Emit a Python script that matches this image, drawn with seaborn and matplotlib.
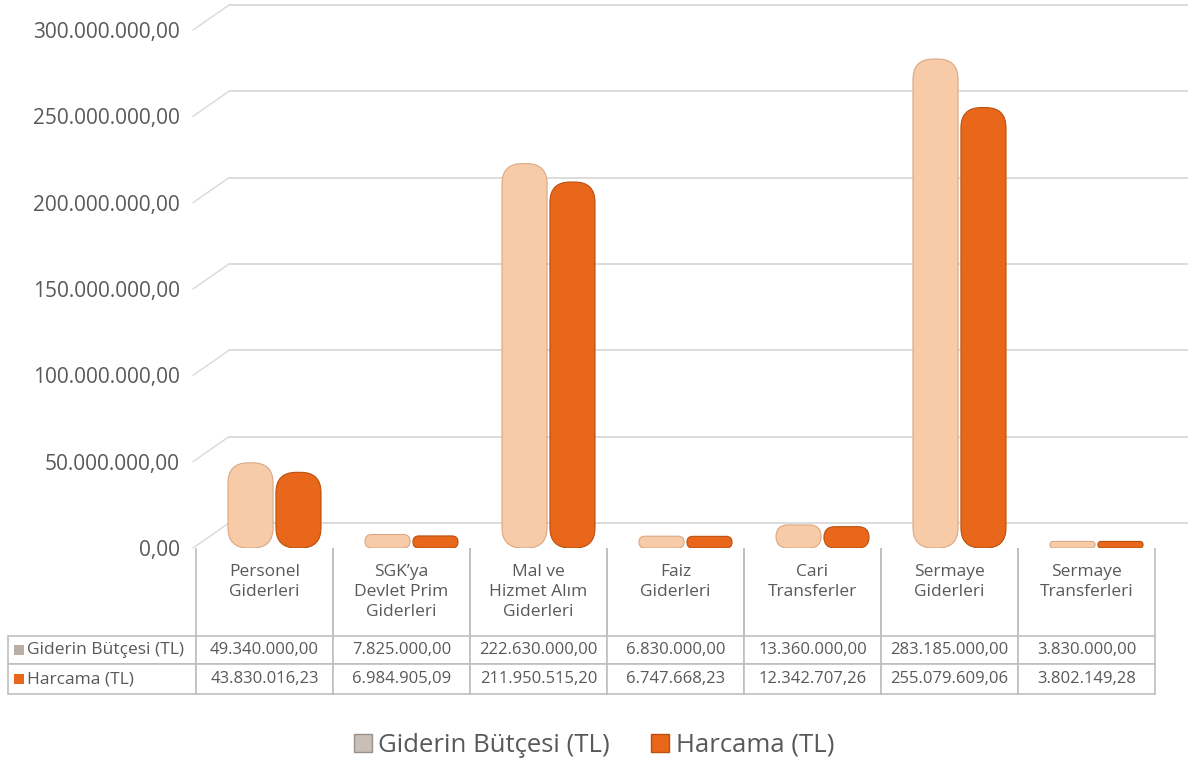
import matplotlib
matplotlib.use("Agg")
import matplotlib.pyplot as plt
from matplotlib.patches import FancyBboxPatch, Patch, Rectangle
import pandas as pd
import seaborn as sns

categories = ["Personel\nGiderleri", "SGK’ya\nDevlet Prim\nGiderleri", "Mal ve\nHizmet Alım\nGiderleri",
              "Faiz\nGiderleri", "Cari\nTransferler", "Sermaye\nGiderleri", "Sermaye\nTransferleri"]
series = ["Giderin Bütçesi (TL)", "Harcama (TL)"]
butce = [49340000.00, 7825000.00, 222630000.00, 6830000.00, 13360000.00, 283185000.00, 3830000.00]
harcama = [43830016.23, 6984905.09, 211950515.20, 6747668.23, 12342707.26, 255079609.06, 3802149.28]
yticks = [0, 50e6, 100e6, 150e6, 200e6, 250e6, 300e6]

colors = ["#F8CBA8", "#E8671A"]
edges = ["#D9A886", "#B9500F"]
grey = "#595959"
gridc = "#D9D9D9"


def tr_fmt(v):
    s = f"{v:,.2f}"
    return s.replace(",", "X").replace(".", ",").replace("X", ".")


df = pd.DataFrame({
    "cat": list(range(len(categories))) * 2,
    "seri": [series[0]] * len(butce) + [series[1]] * len(harcama),
    "deger": butce + harcama,
})

sns.set_theme(style="white")
plt.rcParams["font.family"] = ["Open Sans", "DejaVu Sans"]

W, H = 1188, 767
fig = plt.figure(figsize=(W / 100, H / 100), dpi=100)

# main bar axes (pixel layout converted to figure fractions)
ax = fig.add_axes([206 / W, (H - 548) / H, 982 / W, 518 / H])
sns.barplot(data=df, x="cat", y="deger", hue="seri", palette=colors, order=list(range(7)),
            width=0.7, gap=0.06, saturation=1, ax=ax, legend=False, native_scale=True)
ax.set_xlim(-0.5, -0.5 + 982 / 137)
ax.set_ylim(0, 300e6)

# turn the flat bars into rounded "cylinders"
ypp = 300e6 / 518   # data units per pixel in y
xpp = 1 / 137       # data units per pixel in x
aspect = ypp / xpp
bars = list(ax.patches)
for b in bars:
    x0, y0 = b.get_x(), b.get_y()
    w, h = b.get_width(), b.get_height()
    if h <= 0:
        continue
    light = b.get_facecolor()[1] > 0.6
    rs = min(w * 0.45, (h / aspect) / 2)
    rb = FancyBboxPatch((x0, y0), w, h, boxstyle=f"round,pad=0,rounding_size={rs}",
                        mutation_aspect=aspect, facecolor=b.get_facecolor(),
                        edgecolor=edges[0] if light else edges[1], linewidth=0.8, zorder=3)
    b.remove()
    ax.add_patch(rb)

# 3D-ish gridlines: back wall line plus a short diagonal to the front
trans = ax.get_yaxis_transform()
back = 25 * ypp
a0 = 23 / 982
for v in yticks:
    ax.plot([-13 / 982, a0], [v, v + back], color=gridc, lw=1, transform=trans, clip_on=False, zorder=1)
    ax.plot([a0, 1], [v + back, v + back], color=gridc, lw=1.3, transform=trans, clip_on=False, zorder=1)

ax.set_yticks(yticks)
ax.set_yticklabels([tr_fmt(v) for v in yticks], color=grey, fontsize=15)
ax.tick_params(axis="y", length=0, pad=19)
ax.set_xticks([])
ax.set_xlabel("")
ax.set_ylabel("")
for s in ax.spines.values():
    s.set_visible(False)
ax.patch.set_alpha(0)

# data table under the chart
tax = fig.add_axes([8 / W, (H - 694) / H, 1147 / W, 146 / H])
tax.axis("off")
header = [""] + [c if c.count("\n") == 2 else c + "\n" for c in categories]
row1 = [series[0]] + [tr_fmt(v) for v in butce]
row2 = [series[1]] + [tr_fmt(v) for v in harcama]
widths = [188] + [137] * 7
tbl = tax.table(cellText=[header, row1, row2], cellLoc="center",
                colWidths=[w / sum(widths) for w in widths], bbox=[0, 0, 1, 1])
tbl.auto_set_font_size(False)
heights = [88, 28, 30]
for (r, c), cell in tbl.get_celld().items():
    cell.set_height(heights[r])
    cell.set_edgecolor("#BFBFBF")
    cell.set_linewidth(1.2)
    cell.get_text().set_color(grey)
    cell.get_text().set_fontsize(12)
    if r == 0:
        cell.visible_edges = "" if c == 0 else "LR"
        cell.get_text().set_linespacing(1.3)
        cell.get_text().set_fontsize(12.5)
    if c == 0 and r > 0:
        cell._loc = "left"
        cell.PAD = 0.1
        cell.get_text().set_ha("left")
        cell.get_text().set_fontsize(12.5)

# little series markers in front of the row labels
for i, yy in enumerate([650, 679]):
    fig.patches.append(Rectangle((14 / W, (H - yy - 5) / H), 10 / W, 10 / H,
                                 transform=fig.transFigure, facecolor=colors[i] if i else "#B8AEA6",
                                 edgecolor="none"))

handles = [Patch(facecolor="#C9BFB6", edgecolor="#9A9088"), Patch(facecolor=colors[1], edgecolor=edges[1])]
fig.legend(handles, series, loc="center", bbox_to_anchor=(0.5, (H - 745) / H), ncol=2, frameon=False,
           fontsize=18.5, handlelength=0.7, handleheight=0.7, handletextpad=0.25, columnspacing=1.6,
           labelcolor=grey)

fig.savefig("out.png", dpi=100)
